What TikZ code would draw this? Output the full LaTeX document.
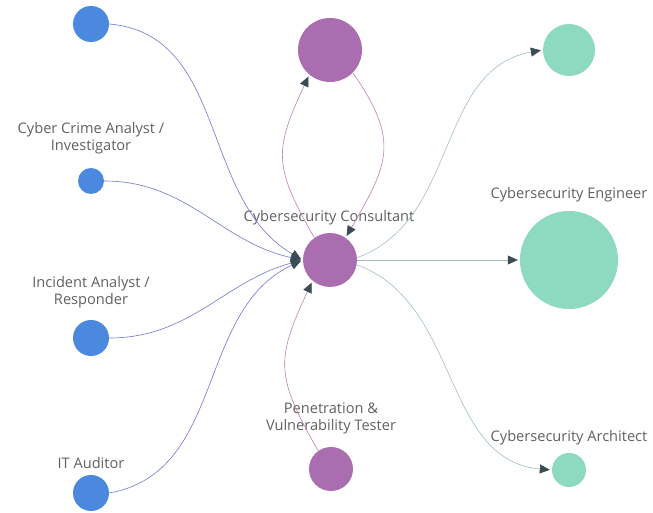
\documentclass[tikz,border=0pt]{standalone}
\usepackage{fontspec}
\setmainfont{Open Sans}
\usetikzlibrary{arrows.meta}

\definecolor{roleblue}{RGB}{74,137,222}
\definecolor{rolepurple}{RGB}{170,110,176}
\definecolor{roleteal}{RGB}{142,218,192}
\definecolor{lineblue}{RGB}{112,118,212}
\definecolor{linepurple}{RGB}{192,128,180}
\definecolor{lineteal}{RGB}{162,190,190}
\definecolor{tipgray}{RGB}{58,76,86}
\definecolor{txtgray}{RGB}{96,96,96}

\begin{document}
\begin{tikzpicture}[
    x=1pt, y=1pt,
    role/.style  = {circle, inner sep=0pt, draw=none},
    blue/.style  = {role, fill=roleblue},
    purp/.style  = {role, fill=rolepurple},
    teal/.style  = {role, fill=roleteal},
    lbl/.style   = {text=txtgray, align=center, inner sep=0pt,
                    font=\fontsize{14.6}{17}\selectfont},
    link/.style  = {semithick, shorten >=2pt,
                    -{Triangle[length=10pt,width=9pt,color=tipgray]}},
  ]
	\useasboundingbox (0,0) rectangle (653,513);

	% linke Seite
	\node (b1) at (91,489) [blue, minimum size=36pt]{};
	\node (b2) at (91,332) [blue, minimum size=26pt]{};
	\node (b3) at (91,175) [blue, minimum size=36pt]{};
	\node (b4) at (91,20)  [blue, minimum size=36pt]{};

	% Mitte
	\node (top)  at (330,463) [purp, minimum size=64pt]{};
	\node (cons) at (330,253) [purp, minimum size=54pt]{};
	\node (pen)  at (331,44)  [purp, minimum size=44pt]{};

	% rechte Seite
	\node (ttop) at (569,463) [teal, minimum size=52pt]{};
	\node (eng)  at (569,253) [teal, minimum size=98pt]{};
	\node (arch) at (569,43)  [teal, minimum size=34pt]{};

	% Beschriftungen
	\node (b2l)   at (91,375)  [lbl]{Cyber Crime Analyst /\\Investigator};
	\node (b3l)   at (91,221)  [lbl]{Incident Analyst /\\Responder};
	\node (b4l)   at (91,50)   [lbl]{IT Auditor};
	\node (consl) at (329,295) [lbl]{Cybersecurity Consultant};
	\node (penl)  at (331,95)  [lbl]{Penetration \&\\Vulnerability Tester};
	\node (engl)  at (569,318) [lbl]{Cybersecurity Engineer};
	\node (archl) at (569,75)  [lbl]{Cybersecurity Architect};

	% Zugänge
	\draw[link, lineblue] (b1.east) to[out=-5, in=150] (cons.west);
	\draw[link, lineblue] (b2.east) to[out=0, in=168] (cons.west);
	\draw[link, lineblue] (b3.east) to[out=0, in=-165] (cons.west);
	\draw[link, lineblue] (b4.east) to[out=10, in=-155] (cons.west);
	\draw[link, linepurple] (pen.125) to[out=120, in=-115, looseness=1.3] (cons.-130);

	% Schleife
	\draw[link, linepurple] (cons.125) to[out=120, in=-115, looseness=1.3] (top.-130);
	\draw[link, linepurple] (top.-45) to[out=-55, in=60, looseness=1.3] (cons.55);

	% Abgänge
	\draw[link, lineteal] (cons.5) to[out=20, in=190] (ttop.west);
	\draw[link, lineteal] (cons.east) -- (eng.west);
	\draw[link, lineteal] (cons.-10) to[out=-20, in=175] (arch.west);
\end{tikzpicture}
\end{document}
